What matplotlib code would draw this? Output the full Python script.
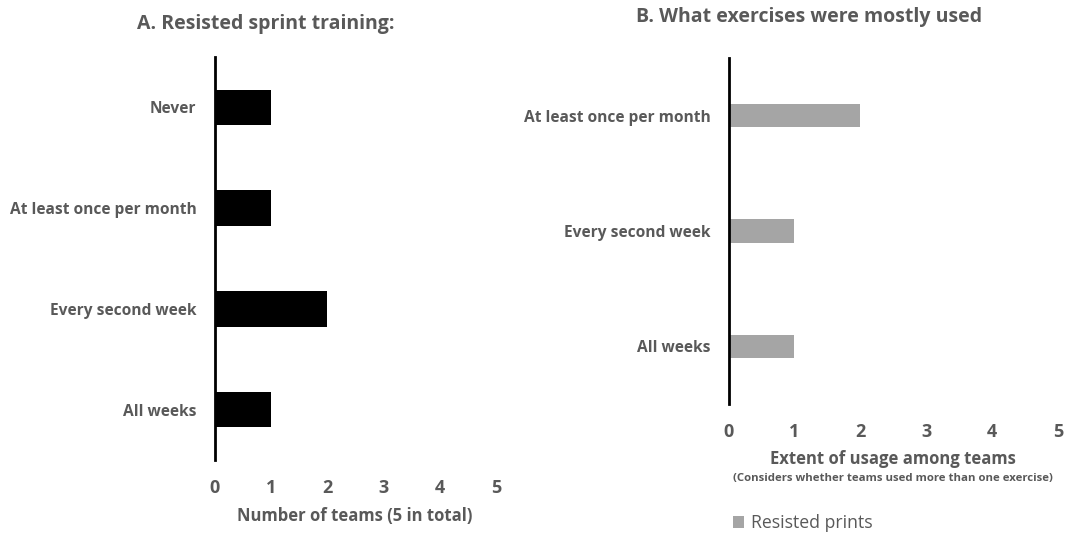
import matplotlib
matplotlib.use("Agg")
import matplotlib.pyplot as plt
from matplotlib.patches import Patch

plt.rcParams['font.family'] = ['Open Sans', 'DejaVu Sans']
TXT = '#595959'

cats_a = ['Never', 'At least once per month', 'Every second week', 'All weeks']
vals_a = [1, 1, 2, 1]
cats_b = ['At least once per month', 'Every second week', 'All weeks']
vals_b = [2, 1, 1]
xticks = [0, 1, 2, 3, 4, 5]

W, H = 1068, 545
fig = plt.figure(figsize=(W / 100, H / 100), dpi=100)

def ax_rect(x0, x1, ytop, ybot):
    return [x0 / W, 1 - ybot / H, (x1 - x0) / W, (ybot - ytop) / H]

axA = fig.add_axes(ax_rect(214.5, 496.5, 57, 460))
axB = fig.add_axes(ax_rect(728.5, 1058, 58, 404))

def style(ax, cats, vals, color, height, n):
    ax.barh(range(n), vals, height=height, color=color, zorder=2)
    ax.set_ylim(n - 0.5, -0.5)
    ax.set_xlim(0, 5)
    ax.set_yticks(range(n))
    ax.set_yticklabels(cats, fontsize=11.2, fontweight='bold', color=TXT)
    ax.set_xticks(xticks)
    ax.set_xticklabels([str(t) for t in xticks], fontsize=13, fontweight='bold', color=TXT)
    for s in ['top', 'right', 'bottom']:
        ax.spines[s].set_visible(False)
    ax.spines['left'].set_linewidth(2)
    ax.spines['left'].set_color('black')
    ax.spines['left'].set_zorder(3)
    ax.tick_params(axis='both', length=0)
    ax.tick_params(axis='y', pad=13)

style(axA, cats_a, vals_a, 'black', 0.35, 4)
style(axB, cats_b, vals_b, '#a5a5a5', 0.2, 3)
axA.tick_params(axis='x', pad=14)
axB.tick_params(axis='x', pad=14)

fig.text(266 / W, 1 - 24 / H, 'A. Resisted sprint training:', ha='center', va='center',
         fontsize=14, fontweight='bold', color=TXT)
fig.text(809 / W, 1 - 17 / H, 'B. What exercises were mostly used', ha='center', va='center',
         fontsize=14, fontweight='bold', color=TXT)

fig.text(355 / W, 1 - 516 / H, 'Number of teams (5 in total)', ha='center', va='center',
         fontsize=12, fontweight='bold', color=TXT)
fig.text(893 / W, 1 - 459 / H, 'Extent of usage among teams', ha='center', va='center',
         fontsize=12, fontweight='bold', color=TXT)
fig.text(893 / W, 1 - 479 / H, '(Considers whether teams used more than one exercise)', ha='center',
         va='center', fontsize=8.2, fontweight='bold', color=TXT)

handles = [Patch(facecolor='#a5a5a5', edgecolor='none', label='Resisted prints')]
fig.legend(handles=handles, loc='center left', bbox_to_anchor=(724 / W, 1 - 523 / H),
           frameon=False, fontsize=12.7, handlelength=0.65, handleheight=0.65,
           handletextpad=0.4, borderpad=0, labelcolor=TXT)

fig.savefig('out.png', dpi=100)
